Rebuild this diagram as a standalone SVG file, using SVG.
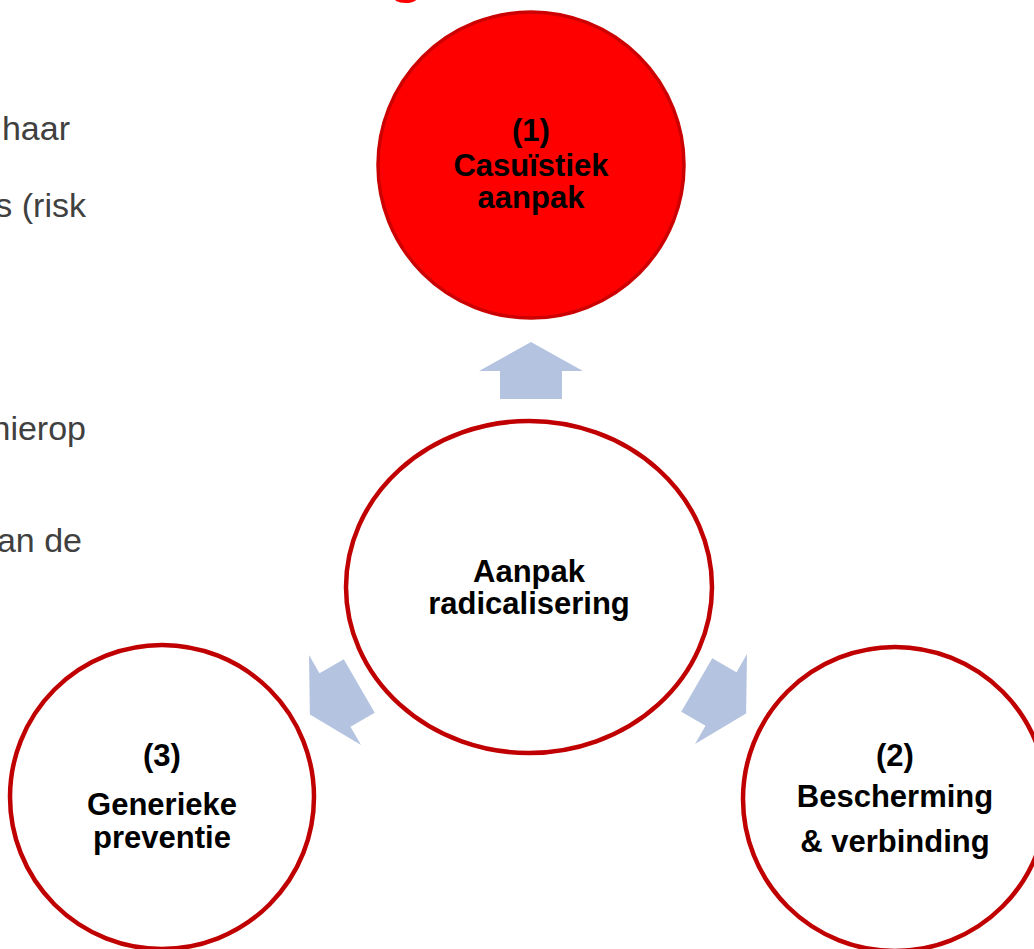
<svg xmlns="http://www.w3.org/2000/svg" width="1034" height="949" viewBox="0 0 1034 949">
<defs>
<style>
.lbl{font-family:"Liberation Sans",Arial,sans-serif;font-weight:bold;font-size:31px;fill:#000;text-anchor:middle}
.side{font-family:"Liberation Sans",Arial,sans-serif;font-size:34px;fill:#404040;text-anchor:end}
.ring{fill:#fff;stroke:#c00000;stroke-width:4.5}
.arrow{fill:#b4c4e0}
</style>
<polygon id="arw" points="0,-29 52,0 31,0 31,28 -31,28 -31,0 -52,0"/>
</defs>
<rect width="1034" height="949" fill="#fff"/>
<g id="title">
<text x="388" y="-9" style="font-family:'Liberation Sans',Arial,sans-serif;font-weight:bold;font-size:60px;fill:#ff0000">g</text>
</g>
<g id="sidetext">
<text class="side" x="70" y="140">haar</text>
<text class="side" x="86" y="217">s (risk</text>
<text class="side" x="86" y="440">hierop</text>
<text class="side" x="82" y="552">an de</text>
</g>
<g id="connectors">
<use href="#arw" class="arrow" transform="translate(531,371)"/>
<use href="#arw" class="arrow" transform="translate(335,700) rotate(-120)"/>
<use href="#arw" class="arrow" transform="translate(721,699) rotate(120)"/>
</g>
<g id="node-casuistiek">
<circle cx="531" cy="165" r="153" fill="#ff0000" stroke="#cc0000" stroke-width="3.5"/>
<text class="lbl" x="531" y="141">(1)</text>
<text class="lbl" x="531" y="176">Casuïstiek</text>
<text class="lbl" x="531" y="208">aanpak</text>
</g>
<g id="node-center">
<ellipse class="ring" cx="529" cy="587" rx="183" ry="166"/>
<text class="lbl" x="529" y="582">Aanpak</text>
<text class="lbl" x="529" y="614">radicalisering</text>
</g>
<g id="node-preventie">
<circle class="ring" cx="162" cy="797" r="152"/>
<text class="lbl" x="162" y="766">(3)</text>
<text class="lbl" x="162" y="815">Generieke</text>
<text class="lbl" x="162" y="848">preventie</text>
</g>
<g id="node-bescherming">
<circle class="ring" cx="895" cy="799" r="152"/>
<text class="lbl" x="895" y="766">(2)</text>
<text class="lbl" x="895" y="807">Bescherming</text>
<text class="lbl" x="895" y="852">&amp; verbinding</text>
</g>
</svg>
